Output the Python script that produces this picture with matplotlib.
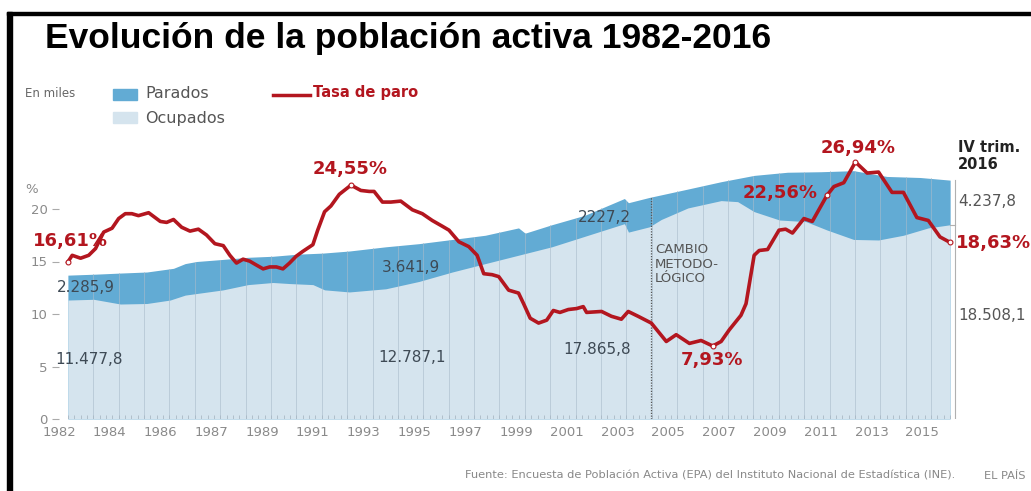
import numpy as np
import matplotlib
matplotlib.use('Agg')
import matplotlib.pyplot as plt
from matplotlib.patches import Rectangle
from matplotlib.lines import Line2D

# datos (millones en el eje, tasa en %)
anios_activos = [1982.00, 1983.14, 1984.07, 1985.11, 1986.16, 1986.62, 1987.07, 1988.12, 1989.10,
                 1990.08, 1991.06, 1992.04, 1993.09, 1994.52, 1995.83, 1997.14, 1998.44, 1999.75,
                 2000.01, 2001.06, 2002.36, 2003.92, 2004.08, 2004.90, 2006.42, 2007.73, 2009.03,
                 2010.34, 2011.65, 2012.95, 2014.26, 2015.57, 2016.75]
activos = [13.7, 13.8, 13.9, 14.0, 14.35, 14.8, 15.0, 15.2, 15.4, 15.5, 15.7, 15.8, 16.0, 16.4,
           16.7, 17.1, 17.5, 18.2, 17.7, 18.5, 19.4, 21.0, 20.6, 21.1, 21.9, 22.6, 23.2, 23.5,
           23.55, 23.65, 23.1, 23.0, 22.75]

anios_ocupados = [1982.00, 1983.02, 1984.07, 1985.11, 1986.03, 1986.62, 1988.12, 1989.10, 1990.08,
                  1990.73, 1991.65, 1992.11, 1993.09, 1994.52, 1995.83, 1997.14, 1998.44, 1999.75,
                  2001.06, 2002.75, 2003.92, 2004.08, 2004.90, 2005.37, 2006.42, 2007.73, 2008.38,
                  2009.03, 2010.03, 2011.07, 2011.90, 2012.95, 2013.93, 2014.91, 2015.89, 2016.75]
ocupados = [11.33, 11.4, 10.95, 11.0, 11.33, 11.8, 12.3, 12.8, 13.0, 12.9, 12.8, 12.3, 12.1, 12.4,
            13.1, 14.0, 14.8, 15.6, 16.4, 17.7, 18.6, 17.8, 18.3, 19.0, 20.1, 20.8, 20.7, 19.75,
            18.95, 18.8, 18.0, 17.1, 17.05, 17.5, 18.2, 18.5]

anios_tasa = [1982.00, 1982.17, 1982.50, 1982.82, 1983.09, 1983.41, 1983.74, 1984.00, 1984.26,
              1984.52, 1984.78, 1985.18, 1985.64, 1985.89, 1986.16, 1986.48, 1986.81, 1987.14,
              1987.46, 1987.79, 1988.12, 1988.38, 1988.64, 1988.90, 1989.16, 1989.42, 1989.69,
              1989.95, 1990.21, 1990.47, 1990.73, 1990.99, 1991.25, 1991.65, 1991.84, 1992.11,
              1992.36, 1992.69, 1993.15, 1993.54, 1993.87, 1994.06, 1994.39, 1994.72, 1995.11,
              1995.57, 1995.96, 1996.35, 1996.75, 1997.01, 1997.40, 1997.79, 1998.12, 1998.38,
              1998.71, 1998.97, 1999.36, 1999.75, 1999.95, 2000.21, 2000.54, 2000.86, 2001.12,
              2001.38, 2001.71, 2002.04, 2002.30, 2002.43, 2003.02, 2003.41, 2003.80, 2004.07,
              2004.46, 2004.98, 2005.57, 2005.96, 2006.48, 2006.94, 2007.40, 2007.73, 2008.05,
              2008.51, 2008.71, 2009.03, 2009.23, 2009.56, 2010.01, 2010.27, 2010.54, 2010.99,
              2011.32, 2011.90, 2012.17, 2012.56, 2013.02, 2013.48, 2013.93, 2014.46, 2014.91,
              2015.44, 2015.89, 2016.35, 2016.75]
tasa = [16.61, 17.3, 17.0, 17.3, 18.0, 19.7, 20.1, 21.1, 21.6, 21.6, 21.4, 21.7, 20.8, 20.7, 21.0,
        20.2, 19.8, 20.0, 19.4, 18.5, 18.3, 17.3, 16.5, 16.9, 16.7, 16.3, 15.9, 16.1, 16.1, 15.9,
        16.5, 17.2, 17.7, 18.4, 19.9, 21.8, 22.4, 23.6, 24.55, 24.0, 23.9, 23.9, 22.8, 22.8, 22.9,
        22.0, 21.6, 20.9, 20.3, 19.9, 18.7, 18.2, 17.3, 15.4, 15.3, 15.1, 13.7, 13.4, 12.3, 10.8,
        10.3, 10.6, 11.6, 11.4, 11.7, 11.8, 12.0, 11.4, 11.5, 11.0, 10.7, 11.5, 11.0, 10.3, 8.4,
        9.1, 8.2, 8.5, 7.93, 8.4, 9.6, 11.1, 12.3, 17.3, 17.8, 17.9, 19.9, 20.0, 19.6, 21.1, 20.8,
        23.5, 24.4, 24.8, 26.94, 25.8, 25.9, 23.8, 23.8, 21.2, 20.9, 19.2, 18.63]

destacados = [0, 38, 91, 94, 78, 102]
textos_tasa = ['16,61%', '24,55%', '22,56%', '26,94%', '7,93%', '18,63%']

etiquetas_x = ['1982', '1984', '1986', '1987', '1989', '1991', '1993', '1995', '1997', '1999',
               '2001', '2003', '2005', '2007', '2009', '2011', '2013', '2015']

W, H = 1031, 491
def px(x, y):
    return x / W, 1 - y / H

rojo = '#b3161f'
azul = '#62abd4'
celeste = '#d5e4ee'
gris = '#8a8a8a'

plt.rcParams['font.family'] = ['DejaVu Sans']
fig = plt.figure(figsize=(W / 100, H / 100), dpi=100)
ax = fig.add_axes([59 / W, 72 / H, 898 / W, 269 / H])
ax.set_xlim(1981.80, 2017.02)
ax.set_ylim(0, 269 / 10.5)

ax.fill_between(anios_activos, 0, activos, color=azul, lw=0)
ax.fill_between(anios_ocupados, 0, ocupados, color=celeste, lw=0)

# lineas verticales por año, solo dentro del area
for yr in range(1983, 2017):
    top = np.interp(yr, anios_activos, activos)
    ax.plot([yr, yr], [0, top], color='#a9bccb', lw=0.7, alpha=0.6)
quart = np.arange(1982.0, 2016.9, 0.25)
ax.vlines(quart, 0, 0.35, color='#aab8c4', lw=0.6)

# cambio metodologico
xc = 2004.98
ax.plot([xc, xc], [0, np.interp(xc, anios_activos, activos)], color='#555555', lw=0.9, ls=(0, (1, 1.2)))

# cierre a la derecha
xr = 2016.95
ax.plot([xr, xr], [0, activos[-1]], color='#b0b0b0', lw=0.8)
ax.plot([anios_ocupados[-1], xr], [ocupados[-1], ocupados[-1]], color='#b0b0b0', lw=0.8)

for s in ax.spines.values():
    s.set_visible(False)
ax.set_yticks([0, 5, 10, 15, 20])
ax.tick_params(axis='y', length=5, color='#aaaaaa', labelcolor=gris, labelsize=9.5, pad=3)
ax.set_xticks([1981.65 + 2 * k for k in range(len(etiquetas_x))])
ax.set_xticklabels(etiquetas_x)
ax.tick_params(axis='x', length=0, labelcolor=gris, labelsize=9.5, pad=5)

ax2 = ax.twinx()
ax2.set_ylim(0.39, 28.18)
ax2.axis('off')
ax2.plot(anios_tasa, tasa, color=rojo, lw=2.6, solid_joinstyle='round')
ax2.plot([anios_tasa[i] for i in destacados], [tasa[i] for i in destacados], 'o',
         ms=3.5, mfc='white', mec=rojo, mew=0.8)

# textos
fig.text(*px(45, 48), 'Evolución de la población activa 1982-2016', family='Liberation Sans',
         weight='bold', fontsize=25.5, va='baseline', ha='left')
fig.text(*px(25, 94), 'En miles', fontsize=8.5, color='#666666', va='center')
fig.patches.append(Rectangle(px(113, 100), 24 / W, 11 / H, transform=fig.transFigure, color=azul))
fig.patches.append(Rectangle(px(113, 123), 24 / W, 11 / H, transform=fig.transFigure, color=celeste))
fig.text(*px(145, 93), 'Parados', fontsize=11.5, color='#555555', va='center')
fig.text(*px(145, 118), 'Ocupados', fontsize=11.5, color='#555555', va='center')
fig.lines.append(Line2D([273 / W, 310 / W], [1 - 95 / H] * 2, transform=fig.transFigure, color=rojo, lw=2.5))
fig.text(*px(313, 93), 'Tasa de paro', fontsize=10.5, color=rojo, weight='bold', va='center')

fig.text(*px(25, 190), '%', fontsize=9.5, color=gris, va='center')

pos_tasa = [(70, 241), (350, 169), (780, 193), (858, 148), (712, 360), (993, 243)]
for t, (x, y) in zip(textos_tasa, pos_tasa):
    fig.text(*px(x, y), t, fontsize=13, weight='bold', color=rojo, ha='center', va='center')

num = '#3e4a55'
for t, (x, y) in zip(['2.285,9', '11.477,8', '3.641,9', '12.787,1', '2227,2', '17.865,8'],
                     [(57, 288), (55, 360), (382, 267), (378, 357), (578, 218), (563, 350)]):
    fig.text(*px(x, y), t, fontsize=11, color=num, va='center')

fig.text(*px(655, 243), 'CAMBIO\nMETODO-\nLÓGICO', fontsize=9.5, color='#555555', va='top',
         linespacing=1.15)
fig.text(*px(958, 140), 'IV trim.\n2016', fontsize=10.5, weight='bold', color='#222222',
         va='top', linespacing=1.15)
fig.text(*px(958, 201), '4.237,8', fontsize=11, color='#555555', va='center')
fig.text(*px(958, 316), '18.508,1', fontsize=11, color='#555555', va='center')

fig.text(*px(955, 476), 'Fuente: Encuesta de Población Activa (EPA) del Instituto Nacional de Estadística (INE).',
         fontsize=8.2, color='#888888', ha='right', va='center')
fig.text(*px(1025, 476), 'EL PAÍS', fontsize=8.2, color='#888888', ha='right', va='center')

# marco negro
fig.patches.append(Rectangle((7 / W, 0), 5 / W, 1 - 12 / H, transform=fig.transFigure, color='black'))
fig.patches.append(Rectangle(px(7, 15), 1 - 7 / W, 3 / H, transform=fig.transFigure, color='black'))

fig.savefig('out.png', dpi=100)
